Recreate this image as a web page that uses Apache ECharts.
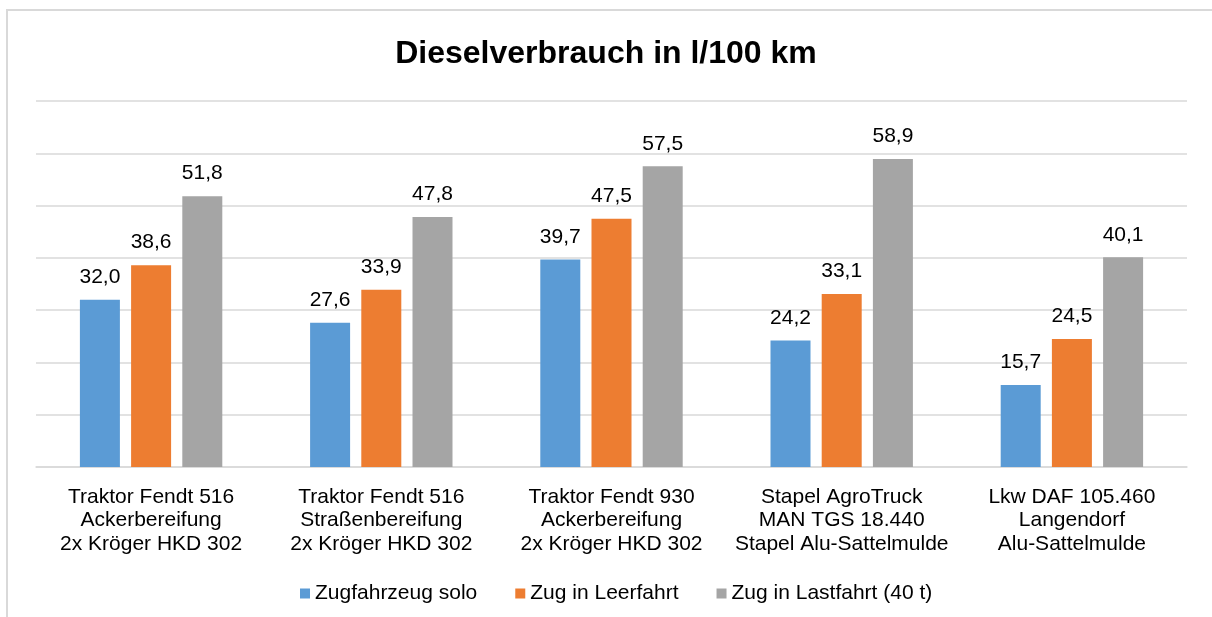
<!DOCTYPE html>
<html>
<head>
<meta charset="utf-8">
<title>Dieselverbrauch in l/100 km</title>
<script src="https://cdn.jsdelivr.net/npm/echarts@6/dist/echarts.min.js"></script>
<style>
  html, body { margin: 0; padding: 0; background: #fff; }
  #chart { width: 1212px; height: 617px; }
</style>
</head>
<body>
<div id="chart"></div>
<script>
// --- Data ---
const categories = [
  "Traktor Fendt 516\nAckerbereifung\n2x Kröger HKD 302",
  "Traktor Fendt 516\nStraßenbereifung\n2x Kröger HKD 302",
  "Traktor Fendt 930\nAckerbereifung\n2x Kröger HKD 302",
  "Stapel AgroTruck\nMAN TGS 18.440\nStapel Alu-Sattelmulde",
  "Lkw DAF 105.460\nLangendorf\nAlu-Sattelmulde"
];
const seriesNames = ["Zugfahrzeug solo", "Zug in Leerfahrt", "Zug in Lastfahrt (40 t)"];
const solo = [32.0, 27.6, 39.7, 24.2, 15.7];
const leer = [38.6, 33.9, 47.5, 33.1, 24.5];
const last = [51.8, 47.8, 57.5, 58.9, 40.1];
const colors = ["#5B9BD5", "#ED7D31", "#A5A5A5"];

const FONT = "'Liberation Sans', Arial, sans-serif";

// German decimal comma
const fmt = (p) => p.value.toFixed(1).replace(".", ",");

function bar(name, data, color) {
  return {
    name,
    type: "bar",
    data,
    barWidth: 40,
    barGap: "28%",
    itemStyle: { color },
    label: {
      show: true,
      position: "top",
      distance: 12,
      formatter: fmt,
      color: "#000",
      fontSize: 21,
      fontFamily: FONT
    }
  };
}

const chart = echarts.init(document.getElementById("chart"), null, { renderer: "canvas" });
chart.setOption({
  animation: false,
  textStyle: { fontFamily: FONT },
  title: {
    text: "Dieselverbrauch in l/100 km",
    left: "center",
    top: 33,
    textStyle: { fontSize: 32, fontWeight: "bold", color: "#000", fontFamily: FONT }
  },
  // outer chart-area border: only top and left edges are inside the window
  graphic: [{
    type: "polyline",
    shape: { points: [[7, 620], [7, 10], [1215, 10]] },
    style: { fill: null, stroke: "#D9D9D9", lineWidth: 2 },
    silent: true
  }],
  legend: {
    left: 295,
    top: 578,
    itemWidth: 10,
    itemHeight: 10,
    itemGap: 38,
    icon: "rect",
    textStyle: { fontSize: 21, color: "#000", fontFamily: FONT },
    data: seriesNames
  },
  grid: { left: 36, right: 25, top: 101, bottom: 150 },
  xAxis: {
    type: "category",
    data: categories,
    axisTick: { show: false },
    axisLine: { lineStyle: { color: "#D9D9D9", width: 1.5 } },
    axisLabel: {
      color: "#000",
      fontSize: 21,
      lineHeight: 23.5,
      margin: 18,
      interval: 0,
      fontFamily: FONT
    }
  },
  yAxis: {
    type: "value",
    min: 0,
    max: 70,
    interval: 10,
    axisLabel: { show: false },
    axisLine: { show: false },
    axisTick: { show: false },
    splitLine: { lineStyle: { color: "#D9D9D9", width: 1.5 } }
  },
  series: [
    bar(seriesNames[0], solo, colors[0]),
    bar(seriesNames[1], leer, colors[1]),
    bar(seriesNames[2], last, colors[2])
  ]
});
</script>
</body>
</html>
